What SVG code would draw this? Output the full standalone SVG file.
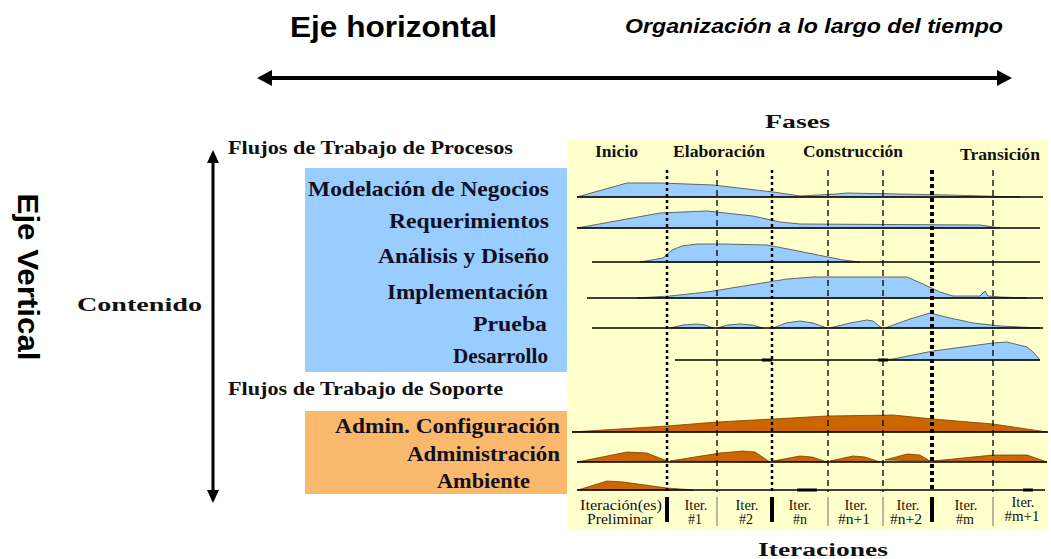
<svg xmlns="http://www.w3.org/2000/svg" width="1051" height="559" viewBox="0 0 1051 559">
<style>
.lbl{font-family:"Liberation Serif","Times New Roman",serif;font-weight:bold;font-size:21px;fill:#10101e}
.hdr{font-family:"Liberation Serif","Times New Roman",serif;font-weight:bold;font-size:18px;fill:#111}
.ph{font-family:"Liberation Serif","Times New Roman",serif;font-weight:bold;font-size:16px;fill:#111}
.it{font-family:"Liberation Serif","Times New Roman",serif;font-size:14px;fill:#111;text-anchor:middle}
.ax{font-family:"Liberation Sans",Arial,sans-serif;font-weight:bold;fill:#000}
.hb{fill:#99CCFF;stroke:#666;stroke-width:1}
.ho{fill:#CC6600;stroke:#7a3d00;stroke-width:0.8}
.base{stroke:#000;stroke-width:1.5}
.dash{stroke:#000;stroke-width:1.3;stroke-dasharray:6 4}
.dot{stroke:#000;stroke-width:2.5;stroke-dasharray:3 3}
.dotb{stroke:#000;stroke-width:4;stroke-dasharray:4 3}
.sep{stroke:#000;stroke-width:4}
.sept{stroke:#888;stroke-width:1.2}
.bit{stroke:#000;stroke-width:3}
</style>
<defs>
<marker id="headH" viewBox="0 0 15 16" refX="0" refY="8" markerWidth="15" markerHeight="16" markerUnits="userSpaceOnUse" orient="auto-start-reverse"><path d="M0,0 L15,8 L0,16 Z" fill="#000"/></marker>
<marker id="headV" viewBox="0 0 13 12" refX="0" refY="6" markerWidth="13" markerHeight="12" markerUnits="userSpaceOnUse" orient="auto-start-reverse"><path d="M0,0 L13,6 L0,12 Z" fill="#000"/></marker>
</defs>
<rect width="1051" height="559" fill="#fff"/>

<g id="titles">
<text class="ax" x="290" y="37" font-size="30" textLength="207" lengthAdjust="spacingAndGlyphs">Eje horizontal</text>
<text class="ax" x="625" y="33" font-size="20" font-style="italic" textLength="378" lengthAdjust="spacingAndGlyphs">Organización a lo largo del tiempo</text>
<text class="ax" font-size="30" text-anchor="middle" transform="translate(18,277) rotate(90)" textLength="167" lengthAdjust="spacingAndGlyphs">Eje Vertical</text>
<text class="hdr" x="77" y="311" font-size="23" textLength="125" lengthAdjust="spacingAndGlyphs">Contenido</text>
</g>

<g id="backgrounds">
<rect x="567" y="140" width="481" height="390" fill="#FFFFCC"/>
<rect x="305" y="168" width="262" height="204" fill="#99CCFF"/>
<rect x="305" y="411" width="262" height="83" fill="#F9B86C"/>
</g>

<g id="chart-headers">
<text class="hdr" x="765" y="128" font-size="26" textLength="65" lengthAdjust="spacingAndGlyphs">Fases</text>
<text class="hdr" x="758" y="556" font-size="23" textLength="130" lengthAdjust="spacingAndGlyphs">Iteraciones</text>
<text class="hdr" x="228" y="154" textLength="285" lengthAdjust="spacingAndGlyphs">Flujos de Trabajo de Procesos</text>
<text class="hdr" x="228" y="395" textLength="275" lengthAdjust="spacingAndGlyphs">Flujos de Trabajo de Soporte</text>
</g>

<g id="phases">
<text class="ph" x="595" y="157" textLength="43" lengthAdjust="spacingAndGlyphs">Inicio</text>
<text class="ph" x="673" y="157" textLength="92" lengthAdjust="spacingAndGlyphs">Elaboración</text>
<text class="ph" x="803" y="157" textLength="100" lengthAdjust="spacingAndGlyphs">Construcción</text>
<text class="ph" x="960" y="160" textLength="80" lengthAdjust="spacingAndGlyphs">Transición</text>
</g>

<g id="row-modelacion">
<text class="lbl" x="549" y="196" text-anchor="end" textLength="241" lengthAdjust="spacingAndGlyphs">Modelación de Negocios</text>
<path class="hb" d="M577,197 L627,183 L660,183 L713,185 L773,192 L800,196 L837,194 L847,193 L947,195 L1020,197 Z"/>
<line class="base" x1="577" y1="197" x2="1043" y2="197"/>
</g>
<g id="row-requerimientos">
<text class="lbl" x="549" y="228" text-anchor="end" textLength="160" lengthAdjust="spacingAndGlyphs">Requerimientos</text>
<path class="hb" d="M577,228 L660,213 L707,211 L753,216 L780,222 L800,224 L980,225 L1000,228 Z"/>
<line class="base" x1="577" y1="228" x2="1040" y2="228"/>
</g>
<g id="row-analisis">
<text class="lbl" x="549" y="263" text-anchor="end" textLength="171" lengthAdjust="spacingAndGlyphs">Análisis y Diseño</text>
<path class="hb" d="M640,262 L663,258 L672,250 L682,246 L697,244 L723,244 L767,245 L793,250 L843,260 L860,262 Z"/>
<line class="base" x1="592" y1="262" x2="1040" y2="262"/>
</g>
<g id="row-implementacion">
<text class="lbl" x="548" y="299" text-anchor="end" textLength="161" lengthAdjust="spacingAndGlyphs">Implementación</text>
<path class="hb" d="M637,298 L670,296 L707,292 L787,279 L813,277 L907,277 L923,284 L940,292 L953,296 L980,296 L985,291 L988,296 L1000,297 L1027,298 Z"/>
<line class="base" x1="587" y1="298" x2="1043" y2="298"/>
</g>
<g id="row-prueba">
<text class="lbl" x="547" y="331" text-anchor="end" textLength="74" lengthAdjust="spacingAndGlyphs">Prueba</text>
<path class="hb" d="M670,328 L683,325 L697,324 L705,325 L713,328 Z"/>
<path class="hb" d="M717,328 L728,325 L740,324 L752,325 L763,328 Z"/>
<path class="hb" d="M773,328 L786,323 L800,321 L813,323 L827,328 Z"/>
<path class="hb" d="M830,328 L850,323 L867,320 L873,321 L878,325 L882,328 Z"/>
<path class="hb" d="M885,328 L910,319 L930,313 L950,318 L973,323 L1000,326 L1040,328 Z"/>
<line class="base" x1="592" y1="328" x2="1043" y2="328"/>
</g>
<g id="row-desarrollo">
<text class="lbl" x="548" y="363" text-anchor="end" textLength="95" lengthAdjust="spacingAndGlyphs">Desarrollo</text>
<path class="hb" d="M880,360 L893,359 L933,351 L993,343 L1007,342 L1027,347 L1033,352 L1040,360 Z"/>
<line class="base" x1="675" y1="360" x2="1040" y2="360"/>
<line class="bit" x1="762" y1="360" x2="772" y2="360"/>
<line class="bit" x1="878" y1="360" x2="888" y2="360"/>
</g>
<g id="row-config">
<text class="lbl" x="560" y="433" text-anchor="end" textLength="225" lengthAdjust="spacingAndGlyphs">Admin. Configuración</text>
<path class="ho" d="M572,432 L667,426 L717,422 L773,419 L827,416 L893,415 L933,419 L993,424 L1047,432 Z"/>
<line class="base" x1="572" y1="432" x2="1048" y2="432"/>
</g>
<g id="row-administracion">
<text class="lbl" x="560" y="461" text-anchor="end" textLength="153" lengthAdjust="spacingAndGlyphs">Administración</text>
<path class="ho" d="M577,462 L627,452 L647,453 L667,461 Z"/>
<path class="ho" d="M670,461 L720,453 L743,451 L755,452 L770,462 Z"/>
<path class="ho" d="M773,461 L800,456 L812,457 L827,462 Z"/>
<path class="ho" d="M830,461 L853,456 L865,457 L880,462 Z"/>
<path class="ho" d="M885,460 L907,454 L920,455 L930,461 Z"/>
<path class="ho" d="M933,461 L993,455 L1027,455 L1047,462 Z"/>
<line class="base" x1="577" y1="462" x2="1047" y2="462"/>
</g>
<g id="row-ambiente">
<text class="lbl" x="530" y="488" text-anchor="end" textLength="93" lengthAdjust="spacingAndGlyphs">Ambiente</text>
<path class="ho" d="M578,490 L607,481 L623,482 L667,488 L693,490 Z"/>
<line class="base" x1="577" y1="490" x2="1045" y2="490"/>
<line class="bit" x1="797" y1="490" x2="817" y2="490"/>
<line class="bit" x1="1023" y1="490" x2="1033" y2="490"/>
</g>

<g id="grid">
<line class="dot" x1="667" y1="170" x2="667" y2="492"/>
<line class="dash" x1="717" y1="170" x2="717" y2="492"/>
<line class="dot" x1="772" y1="170" x2="772" y2="492"/>
<line class="dash" x1="828" y1="170" x2="828" y2="492"/>
<line class="dash" x1="883" y1="170" x2="883" y2="492"/>
<line class="dotb" x1="932" y1="170" x2="932" y2="492"/>
<line class="dash" x1="993" y1="170" x2="993" y2="492"/>
</g>

<g id="iterations">
<line class="sep" x1="667" y1="497" x2="667" y2="522"/>
<line class="sep" x1="772" y1="497" x2="772" y2="522"/>
<line class="sep" x1="932" y1="497" x2="932" y2="522"/>
<line class="sept" x1="717" y1="497" x2="717" y2="526"/>
<line class="sept" x1="828" y1="497" x2="828" y2="526"/>
<line class="sept" x1="883" y1="497" x2="883" y2="526"/>
<line class="sept" x1="993" y1="497" x2="993" y2="526"/>
<text class="it" x="621" y="510" textLength="82" lengthAdjust="spacingAndGlyphs">Iteración(es)</text>
<text class="it" x="620" y="524" textLength="66" lengthAdjust="spacingAndGlyphs">Preliminar</text>
<text class="it" x="696" y="510" textLength="23" lengthAdjust="spacingAndGlyphs">Iter.</text>
<text class="it" x="695" y="524">#1</text>
<text class="it" x="747" y="510" textLength="23" lengthAdjust="spacingAndGlyphs">Iter.</text>
<text class="it" x="746" y="524">#2</text>
<text class="it" x="800" y="510" textLength="23" lengthAdjust="spacingAndGlyphs">Iter.</text>
<text class="it" x="800" y="524">#n</text>
<text class="it" x="856" y="510" textLength="23" lengthAdjust="spacingAndGlyphs">Iter.</text>
<text class="it" x="854" y="524" textLength="32" lengthAdjust="spacingAndGlyphs">#n+1</text>
<text class="it" x="908" y="510" textLength="23" lengthAdjust="spacingAndGlyphs">Iter.</text>
<text class="it" x="906" y="524" textLength="32" lengthAdjust="spacingAndGlyphs">#n+2</text>
<text class="it" x="966" y="510" textLength="23" lengthAdjust="spacingAndGlyphs">Iter.</text>
<text class="it" x="965" y="524">#m</text>
<text class="it" x="1023" y="507" textLength="23" lengthAdjust="spacingAndGlyphs">Iter.</text>
<text class="it" x="1022" y="521" textLength="35" lengthAdjust="spacingAndGlyphs">#m+1</text>
</g>

<g id="connectors">
<line x1="272" y1="78" x2="997" y2="78" stroke="#000" stroke-width="4" marker-start="url(#headH)" marker-end="url(#headH)"/>
<line x1="213" y1="163" x2="213" y2="490" stroke="#000" stroke-width="3" marker-start="url(#headV)" marker-end="url(#headV)"/>
</g>
</svg>
